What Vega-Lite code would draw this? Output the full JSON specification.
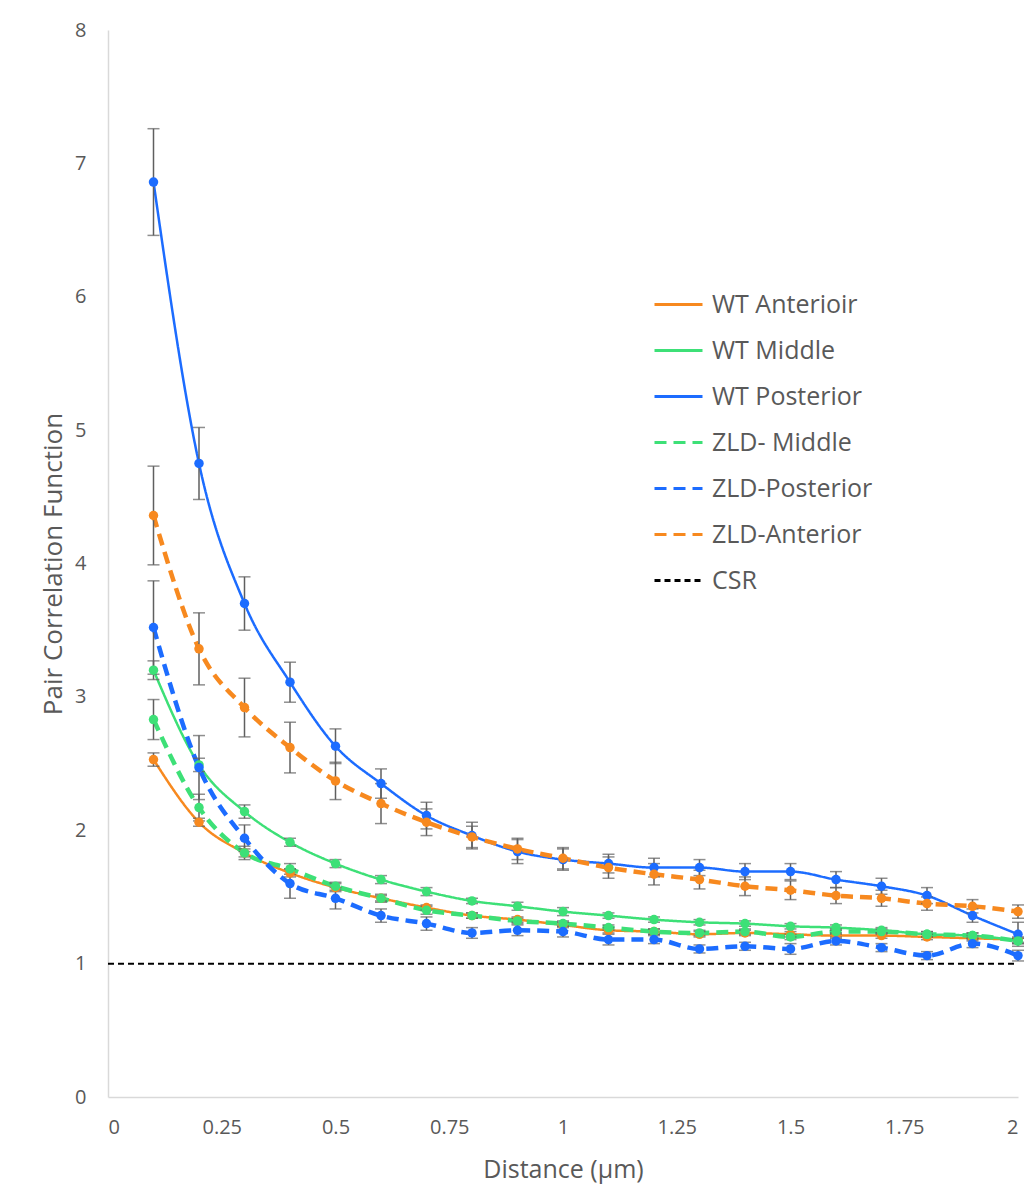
{
  "$schema": "https://vega.github.io/schema/vega-lite/v6.json",
  "width": 910,
  "height": 1067,
  "autosize": "none",
  "padding": {"left": 108, "top": 30, "right": 12, "bottom": 105},
  "background": "white",
  "config": {
    "view": {"stroke": null},
    "axis": {"grid": false, "ticks": false, "domainColor": "#d9d9d9", "domainWidth": 1.5, "labelColor": "#595959", "titleColor": "#595959", "labelFont": "Open Sans", "labelFontSize": 20, "titleFont": "Open Sans", "titleFontSize": 25, "titleFontWeight": "normal"}
  },
  "data": {"values": [
    {"s":"WT Anterioir","x":0.1,"y":2.53,"e":0.05},{"s":"WT Anterioir","x":0.2,"y":2.06,"e":0.03},{"s":"WT Anterioir","x":0.3,"y":1.83,"e":0.03},{"s":"WT Anterioir","x":0.4,"y":1.68,"e":0.03},{"s":"WT Anterioir","x":0.5,"y":1.57,"e":0.03},{"s":"WT Anterioir","x":0.6,"y":1.49,"e":0.02},{"s":"WT Anterioir","x":0.7,"y":1.42,"e":0.02},{"s":"WT Anterioir","x":0.8,"y":1.36,"e":0.02},{"s":"WT Anterioir","x":0.9,"y":1.33,"e":0.02},{"s":"WT Anterioir","x":1.0,"y":1.29,"e":0.02},{"s":"WT Anterioir","x":1.1,"y":1.25,"e":0.02},{"s":"WT Anterioir","x":1.2,"y":1.24,"e":0.02},{"s":"WT Anterioir","x":1.3,"y":1.22,"e":0.02},{"s":"WT Anterioir","x":1.4,"y":1.23,"e":0.02},{"s":"WT Anterioir","x":1.5,"y":1.22,"e":0.02},{"s":"WT Anterioir","x":1.6,"y":1.21,"e":0.02},{"s":"WT Anterioir","x":1.7,"y":1.21,"e":0.02},{"s":"WT Anterioir","x":1.8,"y":1.2,"e":0.02},{"s":"WT Anterioir","x":1.9,"y":1.19,"e":0.02},{"s":"WT Anterioir","x":2.0,"y":1.18,"e":0.02},
    {"s":"WT Middle","x":0.1,"y":3.2,"e":0.07},{"s":"WT Middle","x":0.2,"y":2.49,"e":0.05},{"s":"WT Middle","x":0.3,"y":2.14,"e":0.05},{"s":"WT Middle","x":0.4,"y":1.91,"e":0.03},{"s":"WT Middle","x":0.5,"y":1.75,"e":0.03},{"s":"WT Middle","x":0.6,"y":1.63,"e":0.03},{"s":"WT Middle","x":0.7,"y":1.54,"e":0.03},{"s":"WT Middle","x":0.8,"y":1.47,"e":0.02},{"s":"WT Middle","x":0.9,"y":1.43,"e":0.03},{"s":"WT Middle","x":1.0,"y":1.39,"e":0.03},{"s":"WT Middle","x":1.1,"y":1.36,"e":0.02},{"s":"WT Middle","x":1.2,"y":1.33,"e":0.02},{"s":"WT Middle","x":1.3,"y":1.31,"e":0.02},{"s":"WT Middle","x":1.4,"y":1.3,"e":0.02},{"s":"WT Middle","x":1.5,"y":1.28,"e":0.02},{"s":"WT Middle","x":1.6,"y":1.27,"e":0.02},{"s":"WT Middle","x":1.7,"y":1.25,"e":0.02},{"s":"WT Middle","x":1.8,"y":1.22,"e":0.02},{"s":"WT Middle","x":1.9,"y":1.21,"e":0.02},{"s":"WT Middle","x":2.0,"y":1.17,"e":0.02},
    {"s":"WT Posterior","x":0.1,"y":6.86,"e":0.4},{"s":"WT Posterior","x":0.2,"y":4.75,"e":0.27},{"s":"WT Posterior","x":0.3,"y":3.7,"e":0.2},{"s":"WT Posterior","x":0.4,"y":3.11,"e":0.15},{"s":"WT Posterior","x":0.5,"y":2.63,"e":0.13},{"s":"WT Posterior","x":0.6,"y":2.35,"e":0.11},{"s":"WT Posterior","x":0.7,"y":2.11,"e":0.1},{"s":"WT Posterior","x":0.8,"y":1.96,"e":0.1},{"s":"WT Posterior","x":0.9,"y":1.84,"e":0.09},{"s":"WT Posterior","x":1.0,"y":1.78,"e":0.08},{"s":"WT Posterior","x":1.1,"y":1.75,"e":0.07},{"s":"WT Posterior","x":1.2,"y":1.72,"e":0.07},{"s":"WT Posterior","x":1.3,"y":1.72,"e":0.06},{"s":"WT Posterior","x":1.4,"y":1.69,"e":0.06},{"s":"WT Posterior","x":1.5,"y":1.69,"e":0.06},{"s":"WT Posterior","x":1.6,"y":1.63,"e":0.06},{"s":"WT Posterior","x":1.7,"y":1.58,"e":0.06},{"s":"WT Posterior","x":1.8,"y":1.51,"e":0.06},{"s":"WT Posterior","x":1.9,"y":1.36,"e":0.05},{"s":"WT Posterior","x":2.0,"y":1.22,"e":0.09},
    {"s":"ZLD- Middle","x":0.1,"y":2.83,"e":0.15},{"s":"ZLD- Middle","x":0.2,"y":2.17,"e":0.1},{"s":"ZLD- Middle","x":0.3,"y":1.83,"e":0.05},{"s":"ZLD- Middle","x":0.4,"y":1.71,"e":0.04},{"s":"ZLD- Middle","x":0.5,"y":1.58,"e":0.03},{"s":"ZLD- Middle","x":0.6,"y":1.49,"e":0.03},{"s":"ZLD- Middle","x":0.7,"y":1.4,"e":0.03},{"s":"ZLD- Middle","x":0.8,"y":1.36,"e":0.02},{"s":"ZLD- Middle","x":0.9,"y":1.32,"e":0.02},{"s":"ZLD- Middle","x":1.0,"y":1.3,"e":0.02},{"s":"ZLD- Middle","x":1.1,"y":1.27,"e":0.02},{"s":"ZLD- Middle","x":1.2,"y":1.24,"e":0.02},{"s":"ZLD- Middle","x":1.3,"y":1.23,"e":0.02},{"s":"ZLD- Middle","x":1.4,"y":1.24,"e":0.02},{"s":"ZLD- Middle","x":1.5,"y":1.2,"e":0.02},{"s":"ZLD- Middle","x":1.6,"y":1.24,"e":0.02},{"s":"ZLD- Middle","x":1.7,"y":1.24,"e":0.02},{"s":"ZLD- Middle","x":1.8,"y":1.22,"e":0.02},{"s":"ZLD- Middle","x":1.9,"y":1.21,"e":0.02},{"s":"ZLD- Middle","x":2.0,"y":1.17,"e":0.02},
    {"s":"ZLD-Posterior","x":0.1,"y":3.52,"e":0.35},{"s":"ZLD-Posterior","x":0.2,"y":2.47,"e":0.24},{"s":"ZLD-Posterior","x":0.3,"y":1.94,"e":0.1},{"s":"ZLD-Posterior","x":0.4,"y":1.6,"e":0.11},{"s":"ZLD-Posterior","x":0.5,"y":1.49,"e":0.08},{"s":"ZLD-Posterior","x":0.6,"y":1.36,"e":0.05},{"s":"ZLD-Posterior","x":0.7,"y":1.3,"e":0.05},{"s":"ZLD-Posterior","x":0.8,"y":1.23,"e":0.04},{"s":"ZLD-Posterior","x":0.9,"y":1.25,"e":0.04},{"s":"ZLD-Posterior","x":1.0,"y":1.24,"e":0.04},{"s":"ZLD-Posterior","x":1.1,"y":1.18,"e":0.04},{"s":"ZLD-Posterior","x":1.2,"y":1.18,"e":0.03},{"s":"ZLD-Posterior","x":1.3,"y":1.11,"e":0.03},{"s":"ZLD-Posterior","x":1.4,"y":1.13,"e":0.03},{"s":"ZLD-Posterior","x":1.5,"y":1.11,"e":0.04},{"s":"ZLD-Posterior","x":1.6,"y":1.17,"e":0.03},{"s":"ZLD-Posterior","x":1.7,"y":1.12,"e":0.03},{"s":"ZLD-Posterior","x":1.8,"y":1.06,"e":0.03},{"s":"ZLD-Posterior","x":1.9,"y":1.15,"e":0.03},{"s":"ZLD-Posterior","x":2.0,"y":1.06,"e":0.04},
    {"s":"ZLD-Anterior","x":0.1,"y":4.36,"e":0.37},{"s":"ZLD-Anterior","x":0.2,"y":3.36,"e":0.27},{"s":"ZLD-Anterior","x":0.3,"y":2.92,"e":0.22},{"s":"ZLD-Anterior","x":0.4,"y":2.62,"e":0.19},{"s":"ZLD-Anterior","x":0.5,"y":2.37,"e":0.14},{"s":"ZLD-Anterior","x":0.6,"y":2.2,"e":0.15},{"s":"ZLD-Anterior","x":0.7,"y":2.06,"e":0.1},{"s":"ZLD-Anterior","x":0.8,"y":1.95,"e":0.08},{"s":"ZLD-Anterior","x":0.9,"y":1.86,"e":0.08},{"s":"ZLD-Anterior","x":1.0,"y":1.79,"e":0.08},{"s":"ZLD-Anterior","x":1.1,"y":1.72,"e":0.08},{"s":"ZLD-Anterior","x":1.2,"y":1.67,"e":0.08},{"s":"ZLD-Anterior","x":1.3,"y":1.63,"e":0.07},{"s":"ZLD-Anterior","x":1.4,"y":1.58,"e":0.07},{"s":"ZLD-Anterior","x":1.5,"y":1.55,"e":0.07},{"s":"ZLD-Anterior","x":1.6,"y":1.51,"e":0.06},{"s":"ZLD-Anterior","x":1.7,"y":1.49,"e":0.06},{"s":"ZLD-Anterior","x":1.8,"y":1.45,"e":0.05},{"s":"ZLD-Anterior","x":1.9,"y":1.43,"e":0.05},{"s":"ZLD-Anterior","x":2.0,"y":1.39,"e":0.05},
    {"s":"CSR","x":0.0,"y":1.0,"e":0},{"s":"CSR","x":2.0,"y":1.0,"e":0}
  ]},
  "encoding": {
    "x": {"field": "x", "type": "quantitative", "title": "Distance (µm)", "scale": {"domain": [0, 2], "nice": false}, "axis": {"values": [0, 0.25, 0.5, 0.75, 1, 1.25, 1.5, 1.75, 2], "format": ".2~f", "labelFontSize": 20, "labelFont": "Open Sans", "labelPadding": 20, "titlePadding": 20, "titleFontSize": 25}},
    "y": {"field": "y", "type": "quantitative", "title": "Pair Correlation Function", "scale": {"domain": [0, 8], "nice": false}, "axis": {"values": [0,1,2,3,4,5,6,7,8], "labelFontSize": 20, "labelFont": "Open Sans", "labelPadding": 22, "titlePadding": 8, "titleFontSize": 26}}
  },
  "layer": [
    {
      "mark": {"type": "line", "interpolate": "monotone"},
      "encoding": {
        "color": {"field": "s", "type": "nominal", "title": null,
          "scale": {"domain": ["WT Anterioir","WT Middle","WT Posterior","ZLD- Middle","ZLD-Posterior","ZLD-Anterior","CSR"], "range": ["#F7891F","#3DE077","#1C6CFF","#3DE077","#1C6CFF","#F7891F","#000000"]},
          "legend": {"orient": "none", "legendX": 545, "legendY": 249, "symbolType": "stroke", "symbolSize": 2304, "symbolStrokeWidth": 3, "labelFont": "Open Sans", "labelFontSize": 25, "labelColor": "#595959", "rowPadding": 7, "labelOffset": 8, "labelLimit": 400}},
        "strokeDash": {"field": "s", "type": "nominal", "title": null,
          "scale": {"domain": ["WT Anterioir","WT Middle","WT Posterior","ZLD- Middle","ZLD-Posterior","ZLD-Anterior","CSR"], "range": [[1,0],[1,0],[1,0],[12,7],[12,7],[12,7],[6,4]]}},
        "strokeWidth": {"condition": [{"test": "indexof(datum.s, 'ZLD') == 0", "value": 4.5}, {"test": "datum.s == 'CSR'", "value": 2}], "value": 2.5}
      }
    },
    {
      "transform": [{"filter": "datum.s != 'CSR'"}],
      "mark": {"type": "errorbar", "ticks": {"size": 12, "color": "#5f5f5f"}, "color": "#5f5f5f", "thickness": 1.5},
      "encoding": {
        "yError": {"field": "e"},
        "detail": {"field": "s", "type": "nominal"}
      }
    },
    {
      "transform": [{"filter": "datum.s != 'CSR'"}],
      "mark": {"type": "point", "filled": true, "opacity": 1, "size": 90},
      "encoding": {
        "color": {"field": "s", "type": "nominal", "title": null}
      }
    }
  ]
}
